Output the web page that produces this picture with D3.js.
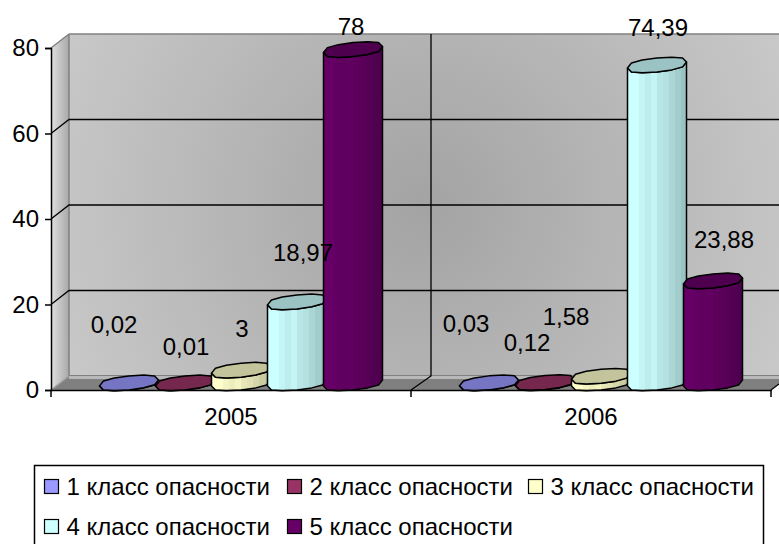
<!DOCTYPE html>
<html>
<head>
<meta charset="utf-8">
<script src="https://cdnjs.cloudflare.com/ajax/libs/d3/7.8.5/d3.min.js"></script>
<style>
html, body { margin: 0; padding: 0; background: #fff; }
svg { display: block; }
text { font-family: "Liberation Sans", Arial, sans-serif; fill: #000; }
</style>
</head>
<body>
<svg id="chart" width="779" height="544"></svg>
<script>
var years = ["2005", "2006"];
var classes = ["1 класс опасности", "2 класс опасности", "3 класс опасности", "4 класс опасности", "5 класс опасности"];
var colors = ["#9999ff", "#993366", "#ffffcc", "#ccffff", "#660066"];
var values2005 = [0.02, 0.01, 3, 18.97, 78];
var values2006 = [0.03, 0.12, 1.58, 74.39, 23.88];
var labels2005 = ["0,02", "0,01", "3", "18,97", "78"];
var labels2006 = ["0,03", "0,12", "1,58", "74,39", "23,88"];
var yTicks = [0, 20, 40, 60, 80];

var WIDTH = 779, HEIGHT = 544,
    LEFT = 51, RIGHT = 771, BOTTOM = 390, TOP = 48,
    DX = 18, DY = -14, FONT = 24;

// hand placed data labels, the original has them dragged off the bars
var labelShift2005 = [[-14, -50], [2, -28], [2, -33], [7, -41], [-1, -15]];
var labelShift2006 = [[-22, -51], [-17, -31], [-34, -51], [2, -29], [12, -33]];

var svg = d3.select("#chart");
var defs = svg.append("defs");

var xScale = d3.scaleBand().domain(years).range([LEFT, RIGHT]);
var seriesScale = d3.scaleBand().domain(d3.range(classes.length))
    .range([-140, 140]);
var yScale = d3.scaleLinear().domain([0, 80]).range([BOTTOM, TOP]);

// walls
var wallGrad = defs.append("radialGradient").attr("id", "wall")
    .attr("gradientUnits", "userSpaceOnUse")
    .attr("cx", 424).attr("cy", 205).attr("r", 390);
wallGrad.append("stop").attr("offset", "0").attr("stop-color", "#a3a3a3");
wallGrad.append("stop").attr("offset", "1").attr("stop-color", "#c8c8c8");

var sideGrad = defs.append("linearGradient").attr("id", "side");
sideGrad.append("stop").attr("offset", "0").attr("stop-color", "#e0e0e0");
sideGrad.append("stop").attr("offset", "1").attr("stop-color", "#a8a8a8");

var backBottom = yScale(0) + DY;
var backTop = yScale(80) + DY;

svg.append("rect")
    .attr("x", LEFT + DX).attr("y", backTop)
    .attr("width", WIDTH - LEFT - DX).attr("height", backBottom - backTop)
    .attr("fill", "url(#wall)");

svg.append("path")
    .attr("d", d3.line()([[LEFT, yScale(80)], [LEFT + DX, backTop], [LEFT + DX, backBottom], [LEFT, yScale(0)]]))
    .attr("fill", "url(#side)");

// floor
svg.append("path")
    .attr("d", d3.line()([[LEFT, yScale(0)], [LEFT + DX, backBottom], [WIDTH, backBottom], [WIDTH, yScale(0) - 6], [RIGHT, yScale(0)]]))
    .attr("fill", "#808080");
svg.append("rect")
    .attr("x", LEFT + DX).attr("y", backBottom)
    .attr("width", WIDTH - LEFT - DX).attr("height", 3)
    .attr("fill", "#b8b8b8");
svg.append("line")
    .attr("x1", LEFT + DX).attr("x2", WIDTH).attr("y1", backBottom - 0.5).attr("y2", backBottom - 0.5)
    .attr("stroke", "#808080").attr("stroke-width", 1);

// wall edges
svg.append("line")
    .attr("x1", LEFT + DX).attr("x2", WIDTH).attr("y1", backTop).attr("y2", backTop)
    .attr("stroke", "#808080").attr("stroke-width", 1.5);
svg.append("line")
    .attr("x1", LEFT + DX).attr("x2", LEFT + DX).attr("y1", backTop).attr("y2", backBottom)
    .attr("stroke", "#808080").attr("stroke-width", 1.5);
svg.append("line")
    .attr("x1", LEFT).attr("x2", LEFT + DX).attr("y1", yScale(80)).attr("y2", backTop)
    .attr("stroke", "#808080").attr("stroke-width", 1.5);
svg.append("line")
    .attr("x1", LEFT).attr("x2", LEFT + DX).attr("y1", yScale(0)).attr("y2", backBottom)
    .attr("stroke", "#a0a0a0").attr("stroke-width", 1.5);

// grid
yTicks.slice(1, 4).forEach(function (t) {
    svg.append("path")
        .attr("d", d3.line()([[LEFT, yScale(t)], [LEFT + DX, yScale(t) + DY], [WIDTH, yScale(t) + DY]]))
        .attr("fill", "none").attr("stroke", "#000").attr("stroke-width", 1.3);
});
// the back wall divider sits 2px further right than the plain depth offset
svg.append("path")
    .attr("d", d3.line()([[xScale("2006"), yScale(0)], [xScale("2006") + DX + 2, backBottom], [xScale("2006") + DX + 2, backTop]]))
    .attr("fill", "none").attr("stroke", "#000").attr("stroke-width", 1.3);
svg.append("path")
    .attr("d", d3.line()([[RIGHT, yScale(0)], [WIDTH, yScale(0) - 6]]))
    .attr("fill", "none").attr("stroke", "#000").attr("stroke-width", 1.3);

// cylinders, the original is a rough faceted shape so sample the ellipse coarsely
function rim(cx, cy, rx, ry) {
    return d3.range(0, 360, 30).map(function (a) {
        var r = a * Math.PI / 180;
        var s = Math.sin(r);
        var x = Math.cos(r) * rx;
        var y = (s < 0 ? -1 : 1) * Math.pow(Math.abs(s), 0.65) * ry;
        return [cx + x, cy + y - x * 0.1];
    });
}

colors.forEach(function (c, i) {
    var g = defs.append("linearGradient").attr("id", "bar" + i);
    var base = d3.color(c);
    // banded stops, the source shading has visible vertical facets
    [1.0, 1.0, 0.96, 0.93, 0.96, 0.9, 0.88, 0.84, 0.8, 0.76].forEach(function (k, n) {
        var col = d3.rgb(base.r * k, base.g * k, base.b * k).formatHex();
        g.append("stop").attr("offset", n / 10).attr("stop-color", col);
        g.append("stop").attr("offset", (n + 1) / 10).attr("stop-color", col);
    });
});

function drawBars(year, values, labels, shift) {
    var layer = svg.append("g");
    values.forEach(function (v, i) {
        var cx = xScale(year) + xScale.bandwidth() / 2 + DX / 2 + 1 + seriesScale(i) + seriesScale.bandwidth() / 2;
        var rx = seriesScale.bandwidth() / 2 + 1.5;
        var ry = 7;
        var baseY = yScale(0) - 7;
        var topY = yScale(v) - 7;
        var top = rim(cx, topY, rx, ry);
        var bottom = rim(cx, baseY, rx, ry);
        // front half only: angles 0..180 of the rim
        var lower = bottom.slice(0, 7);
        var upper = top.slice(0, 7).reverse();
        layer.append("path")
            .attr("d", d3.line()(lower.concat(upper)) + "Z")
            .attr("fill", "url(#bar" + i + ")")
            .attr("stroke", "#000").attr("stroke-width", 1.5).attr("stroke-linejoin", "round");
        layer.append("path")
            .attr("d", d3.line()(top) + "Z")
            .attr("fill", d3.color(colors[i]).darker(0.75))
            .attr("stroke", "#000").attr("stroke-width", 1.5).attr("stroke-linejoin", "round");
        svg.append("text")
            .attr("x", cx + shift[i][0] - 1).attr("y", topY + shift[i][1])
            .attr("text-anchor", "middle").attr("font-size", FONT)
            .text(labels[i]);
    });
}
drawBars("2005", values2005, labels2005, labelShift2005);
drawBars("2006", values2006, labels2006, labelShift2006);

// axes
var yAxis = d3.axisLeft(yScale).tickValues(yTicks).tickSize(6).tickPadding(6);
var yG = svg.append("g").attr("transform", "translate(" + LEFT + ",0)").call(yAxis);
yG.select(".domain").attr("stroke-width", 1.5);
yG.selectAll(".tick line").attr("stroke-width", 1.5);
yG.selectAll("text").attr("font-size", FONT);

var xAxis = d3.axisBottom(xScale).tickSize(0).tickPadding(0);
var xG = svg.append("g").attr("transform", "translate(0," + BOTTOM + ")").call(xAxis);
xG.selectAll("text").attr("font-size", FONT).attr("y", 18).attr("dy", "0.71em");
xG.select(".domain").attr("stroke-width", 1.5);
years.concat(["end"]).forEach(function (y, i) {
    var x = LEFT + i * xScale.bandwidth();
    xG.append("line").attr("x1", x).attr("x2", x).attr("y1", 0).attr("y2", 7)
        .attr("stroke", "#000").attr("stroke-width", 1.5);
});

// legend, box runs off the bottom of the page like the source
var legend = svg.append("g");
legend.append("rect")
    .attr("x", 34.5).attr("y", 465.5).attr("width", 729).attr("height", 90)
    .attr("fill", "#fff").attr("stroke", "#000").attr("stroke-width", 1.5);
var legendX = d3.scaleOrdinal().domain([0, 1, 2]).range([44, 287, 528]);
classes.forEach(function (name, i) {
    var row = Math.floor(i / 3), col = i % 3;
    var y = 479 + row * 40;
    legend.append("rect")
        .attr("x", legendX(col) + 0.5).attr("y", y + 0.5).attr("width", 14).attr("height", 14)
        .attr("fill", colors[i]).attr("stroke", "#000").attr("stroke-width", 1.2);
    legend.append("text")
        .attr("x", legendX(col) + 22.5).attr("y", y + 16)
        .attr("font-size", FONT)
        .text(name);
});
</script>
</body>
</html>
